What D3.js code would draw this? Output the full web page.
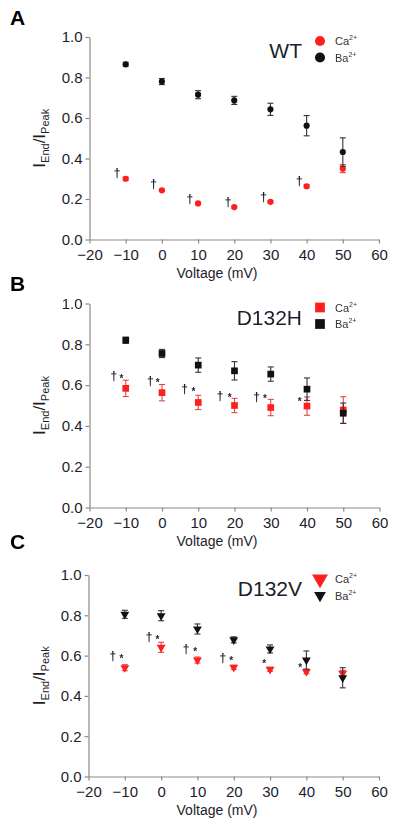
<!DOCTYPE html>
<html><head><meta charset="utf-8">
<script src="https://cdn.jsdelivr.net/npm/d3@7"></script>
<style>
html,body{margin:0;padding:0;background:#fff;}
svg text{font-family:"Liberation Sans",Arial,sans-serif;}
.marks{opacity:0.99;will-change:transform;}
</style></head>
<body>
<svg id="chart" width="400" height="829"></svg>
<script>
const voltages = [-10, 0, 10, 20, 30, 40, 50];
const xTicks = [-20, -10, 0, 10, 20, 30, 40, 50, 60];
const yTicks = [0, 0.2, 0.4, 0.6, 0.8, 1.0];

const wtBa = [0.865, 0.78, 0.715, 0.687, 0.643, 0.562, 0.432];
const wtBaErr = [0.01, 0.015, 0.02, 0.02, 0.03, 0.05, 0.07];
const wtCa = [0.30, 0.243, 0.178, 0.16, 0.186, 0.263, 0.35];
const wtCaErr = [0.008, 0.006, 0.006, 0.006, 0.006, 0.008, 0.02];

const hBa = [0.82, 0.755, 0.698, 0.67, 0.654, 0.58, 0.462];
const hBaErr = [0.015, 0.02, 0.035, 0.045, 0.035, 0.055, 0.05];
const hCa = [0.584, 0.563, 0.515, 0.5, 0.49, 0.497, 0.478];
const hCaErr = [0.04, 0.04, 0.035, 0.035, 0.04, 0.045, 0.065];

const vBa = [0.805, 0.798, 0.732, 0.678, 0.633, 0.578, 0.49];
const vBaErr = [0.02, 0.025, 0.025, 0.015, 0.02, 0.045, 0.05];
const vCa = [0.54, 0.641, 0.578, 0.542, 0.532, 0.52, 0.512];
const vCaErr = [0.015, 0.025, 0.015, 0.01, 0.01, 0.01, 0.015];

// significance marks: [voltage position, value, symbol]
const wtMarks = [[-12.4,0.326,"†"],[-2.3,0.268,"†"],[7.7,0.197,"†"],[18.3,0.18,"†"],[28.1,0.205,"†"],[38,0.284,"†"]];
const hMarks = [[-13.3,0.64,"†"],[-11.2,0.64,"*"],[-3.2,0.617,"†"],[-1.2,0.617,"*"],[6.2,0.576,"†"],[8.7,0.576,"*"],
  [16,0.543,"†"],[18.7,0.543,"*"],[26.1,0.538,"†"],[28.4,0.538,"*"],[38,0.524,"*"]];
const vMarks = [[-13.3,0.592,"†"],[-10.9,0.592,"*"],[-3.3,0.686,"†"],[-1.0,0.686,"*"],[6.9,0.628,"†"],[9.4,0.628,"*"],
  [17,0.583,"†"],[19.3,0.583,"*"],[28.4,0.565,"*"],[38.3,0.549,"*"]];

const panelLetters = ["A", "B", "C"];
const panelTitles = ["WT", "D132H", "D132V"];
const seriesNames = ["Ca", "Ba"];

const RED = "#ff1f1f", BLACK = "#111", AXIS = "#8a8a8a", TXT = "#1d1d2b";

const panels = [
  {letter: panelLetters[0], title: panelTitles[0], shape: "circle", ba: wtBa, baE: wtBaErr, ca: wtCa, caE: wtCaErr, marks: wtMarks,
   top: 37, bottom: 239.5, x0: 89.5, x1: 379, letterY: 25},
  {letter: panelLetters[1], title: panelTitles[1], shape: "square", ba: hBa, baE: hBaErr, ca: hCa, caE: hCaErr, marks: hMarks,
   top: 303.5, bottom: 507.5, x0: 89.5, x1: 379.5, letterY: 291},
  {letter: panelLetters[2], title: panelTitles[2], shape: "triangle", ba: vBa, baE: vBaErr, ca: vCa, caE: vCaErr, marks: vMarks,
   top: 575, bottom: 776.5, x0: 88.5, x1: 379, letterY: 549}
];

const svg = d3.select("#chart");

function symbolPath(shape, size) {
  if (shape === "circle") return d3.symbol(d3.symbolCircle, size)();
  if (shape === "square") return d3.symbol(d3.symbolSquare, size)();
  const s = Math.sqrt(size * 4 / Math.sqrt(3));
  const h = s * Math.sqrt(3) / 2;
  return `M${-s/2},${-h/3}L${s/2},${-h/3}L0,${2*h/3}Z`;
}

panels.forEach(p => {
  const x = d3.scaleLinear().domain([-20, 60]).range([p.x0, p.x1]);
  const y = d3.scaleLinear().domain([0, 1]).range([p.bottom, p.top]);
  const g = svg.append("g");

  g.append("text").attr("x", 10).attr("y", p.letterY).text(p.letter)
    .attr("font-size", 21).attr("font-weight", "bold").attr("fill", "#000");

  const yAxis = d3.axisLeft(y).tickValues(yTicks).tickFormat(d3.format(".1f")).tickSizeInner(4).tickSizeOuter(0).tickPadding(3);
  const xAxis = d3.axisBottom(x).tickValues(xTicks).tickFormat(d3.format("d")).tickSizeInner(4).tickSizeOuter(0).tickPadding(6);
  const ya = g.append("g").attr("transform", `translate(${p.x0},0)`).call(yAxis);
  const xa = g.append("g").attr("transform", `translate(0,${p.bottom})`).call(xAxis);
  [ya, xa].forEach(a => {
    a.select(".domain").attr("stroke", AXIS).attr("stroke-width", 1.2);
    a.selectAll(".tick line").attr("stroke", AXIS).attr("stroke-width", 1.2);
    a.selectAll(".tick text").attr("fill", TXT).attr("font-size", 15)
      .attr("font-family", "Liberation Sans, Arial, sans-serif");
  });

  g.append("text").attr("x", 217).attr("y", p.bottom + 38).attr("text-anchor", "middle")
    .attr("font-size", 14).attr("fill", TXT).text("Voltage (mV)");

  const yc = (p.top + p.bottom) / 2;
  const yl = g.append("text").attr("transform", `translate(45,${yc}) rotate(-90)`)
    .attr("text-anchor", "middle").attr("fill", TXT).attr("font-size", 17);
  yl.append("tspan").text("I");
  yl.append("tspan").attr("font-size", 11).attr("dy", 4).text("End");
  yl.append("tspan").attr("dy", -4).text("/I");
  yl.append("tspan").attr("font-size", 11).attr("dy", 4).text("Peak");

  const series = [
    {vals: p.ca, errs: p.caE, color: RED, ecolor: "#e04848"},
    {vals: p.ba, errs: p.baE, color: BLACK, ecolor: "#333"}
  ];
  const msize = p.shape === "circle" ? 30 : (p.shape === "square" ? 45 : 34);
  series.forEach(s => {
    const data = voltages.map((v, i) => ({v, m: s.vals[i], e: s.errs[i]}));
    const eb = g.append("g").attr("stroke", s.ecolor).attr("stroke-width", 1.1).attr("fill", "none");
    eb.selectAll("line.v").data(data).join("line")
      .attr("x1", d => x(d.v)).attr("x2", d => x(d.v))
      .attr("y1", d => y(d.m - d.e)).attr("y2", d => y(d.m + d.e));
    eb.selectAll("line.t").data(data).join("line")
      .attr("x1", d => x(d.v) - 3).attr("x2", d => x(d.v) + 3)
      .attr("y1", d => y(d.m + d.e)).attr("y2", d => y(d.m + d.e));
    eb.selectAll("line.b").data(data).join("line")
      .attr("x1", d => x(d.v) - 3).attr("x2", d => x(d.v) + 3)
      .attr("y1", d => y(d.m - d.e)).attr("y2", d => y(d.m - d.e));
    g.append("g").selectAll("path").data(data).join("path")
      .attr("d", symbolPath(p.shape, msize))
      .attr("transform", d => `translate(${x(d.v)},${y(d.m)})`)
      .attr("fill", s.color);
  });

  g.append("g").attr("class", "marks").selectAll("text").data(p.marks).join("text")
    .attr("x", d => x(d[0])).attr("y", d => y(d[1]))
    .attr("text-anchor", "middle").attr("dominant-baseline", "middle")
    .attr("font-family", "DejaVu Sans, sans-serif")
    .attr("font-size", d => d[2] === "*" ? 10 : 12).attr("font-weight", "bold")
    .attr("dy", d => d[2] === "*" ? 2 : 0)
    .attr("fill", TXT).text(d => d[2]);

  g.append("text").attr("x", 302).attr("y", p.top + 21).attr("text-anchor", "end")
    .attr("font-size", 21).attr("fill", TXT).text(p.title);
  const legSizes = p.shape === "circle" ? [80, 80] : (p.shape === "square" ? [95, 95] : [110, 60]);
  seriesNames.forEach((nm, i) => {
    const ly = p.top + 4 + i * 16.5;
    g.append("path").attr("d", symbolPath(p.shape, legSizes[i]))
      .attr("transform", `translate(320,${ly})`).attr("fill", i === 0 ? RED : BLACK);
    const t = g.append("text").attr("x", 335).attr("y", ly + 4).attr("font-size", 11).attr("fill", "#333");
    t.append("tspan").text(nm);
    t.append("tspan").attr("font-size", 7).attr("dy", -5).text("2+");
  });
});
</script>
</body></html>
